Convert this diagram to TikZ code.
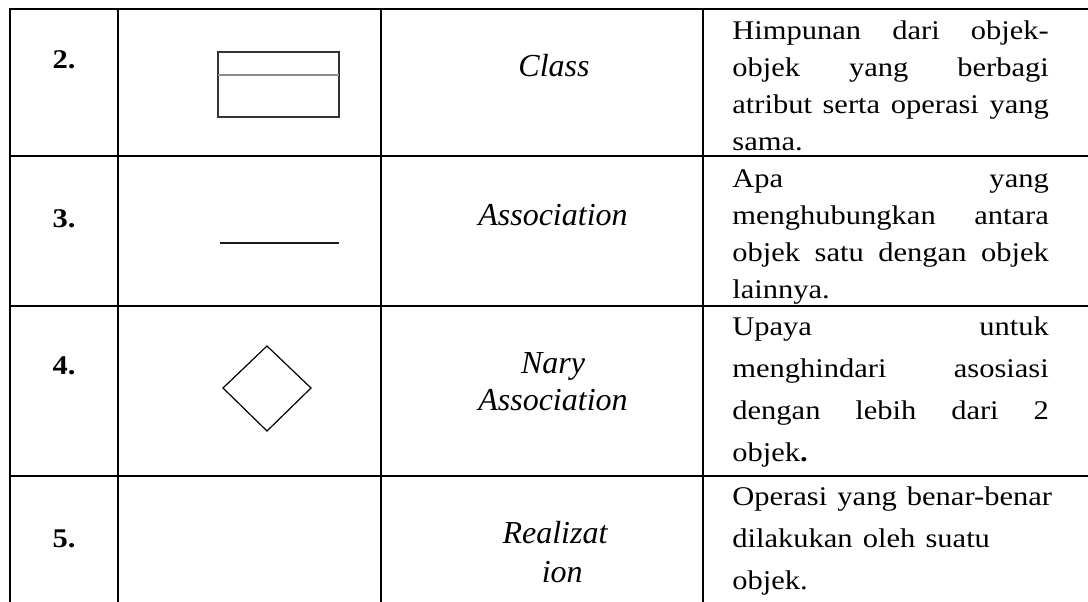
\documentclass[tikz,border=0pt]{standalone}
\usepackage{fontspec}
\usepackage{graphicx}
\setmainfont{Liberation Serif}
\newcommand{\wide}[1]{\scalebox{1.13}[1]{#1}}
\newcommand{\jline}[1]{\wide{\hbox to 140pt{#1}}}

\begin{document}
\begin{tikzpicture}[x=0.5pt,y=-0.5pt,
    rule/.style={line width=1.35pt,line cap=rect},
    num/.style={anchor=base,inner sep=0pt,font=\fontsize{13.5}{16}\selectfont\bfseries},
    term/.style={anchor=base,inner sep=0pt,text width=150pt,align=center,font=\fontsize{16}{18.5}\selectfont\itshape},
    desc/.style={anchor=base west,inner sep=0pt,text width=175pt,align=left,font=\fontsize{13.5}{18.5}\selectfont}]
    \useasboundingbox (0,0) rectangle (1088,601);
    % Table rules
    \foreach \y in {9,156,306,476}
        \draw[rule] (10,\y) -- (1088,\y);
    \foreach \x in {10,118,381,703}
        \draw[rule] (\x,9) -- (\x,601);
    % Numbers
    \node[num] (n2) at (64,68) {\wide{2.}};
    \node[num] (n3) at (64,227) {\wide{3.}};
    \node[num] (n4) at (64,374) {\wide{4.}};
    \node[num] (n5) at (64,547) {\wide{5.}};
    % Symbols
    \draw[line width=0.55pt,draw=black!80] (218,52) rectangle (339,117);
    \draw[line width=0.8pt,draw=black!45] (218,75) -- (339,75);
    \draw[line width=0.75pt,draw=black!90] (220,243) -- (339,243);
    \draw[line width=0.6pt] (223,388) -- (267,346) -- (311,388) -- (267,431) -- cycle;
    % Terms
    \node[term] (class) at (554,76) {Class};
    \node[term] (assoc) at (553,225) {Association};
    \node[term] (nary) at (553,373) {Nary\\Association};
    \node[term,font=\fontsize{16}{19.5}\selectfont\itshape] (real) at (555,543) {Realizat\\\hspace*{0.45em}ion};
    % Descriptions
    \node[desc] (d2) at (732,39) {\jline{Himpunan\hfill dari\hfill objek-}\\
        \jline{objek\hfill yang\hfill berbagi}\\
        \jline{atribut\hfill serta\hfill operasi\hfill yang}\\
        \wide{sama.}};
    \node[desc] (d3) at (732,187) {\jline{Apa\hfill yang}\\
        \jline{menghubungkan\hfill antara}\\
        \jline{objek\hfill satu\hfill dengan\hfill objek}\\
        \wide{lainnya.}};
    \node[desc,font=\fontsize{13.5}{21}\selectfont] (d4) at (732,335) {\jline{Upaya\hfill untuk}\\
        \jline{menghindari\hfill asosiasi}\\
        \jline{dengan\hfill lebih\hfill dari\hfill 2}\\
        \wide{objek\textbf{.}}};
    \node[desc,font=\fontsize{13.5}{21}\selectfont] (d5) at (732,505) {\wide{Operasi yang benar-benar}\\
        \wide{dilakukan oleh suatu}\\
        \wide{objek.}};
\end{tikzpicture}
\end{document}
